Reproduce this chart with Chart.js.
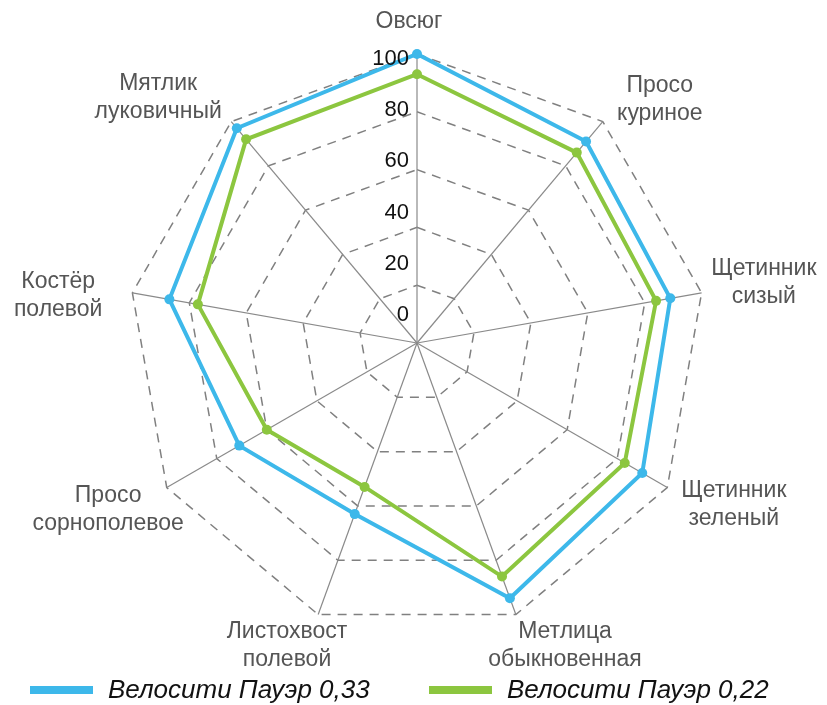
<!DOCTYPE html>
<html>
<head>
<meta charset="utf-8">
<script src="https://cdn.jsdelivr.net/npm/chart.js@4.4.1/dist/chart.umd.min.js"></script>
<style>
  html, body { margin: 0; padding: 0; background: #fff; }
  #wrap { width: 827px; height: 705px; position: relative; }
</style>
</head>
<body>
<div id="wrap"><canvas id="radarChart" width="827" height="705"></canvas></div>
<script>
// Categories (two-line labels)
const categories = [
  ['Овсюг'],
  ['Просо', 'куриное'],
  ['Щетинник', 'сизый'],
  ['Щетинник', 'зеленый'],
  ['Метлица', 'обыкновенная'],
  ['Листохвост', 'полевой'],
  ['Просо', 'сорнополевое'],
  ['Костёр', 'полевой'],
  ['Мятлик', 'луковичный']
];

// Series values (%)
const series033 = [100, 91, 89, 90, 94, 63, 71, 87, 97];
const series022 = [93, 86, 84, 83, 86, 53, 60, 77, 92];
const seriesNames = ['Велосити Пауэр 0,33', 'Велосити Пауэр 0,22'];

// Tick labels
const tickValues = [0, 20, 40, 60, 80, 100];

const blue = '#3DB8EA';
const green = '#8CC63F';

// small hand adjustments of point label placement (px)
const labelNudge = [[-8, 2], [21, 21], [7, 0], [18, -11], [30, -22], [-12, -22], [-10, -6], [-19, 13], [-37, 19]];

// Point labels, tick labels and legend drawn by hand
const decorations = {
  id: 'decorations',
  afterDatasetsDraw(chart) {
    const ctx = chart.ctx;
    const scale = chart.scales.r;
    const R = scale.drawingArea;
    const cx = scale.xCenter, cy = scale.yCenter;
    ctx.save();

    // tick labels
    ctx.font = '22px "Liberation Sans", Arial, sans-serif';
    ctx.fillStyle = '#111';
    ctx.textAlign = 'right';
    ctx.textBaseline = 'middle';
    tickValues.forEach(v => {
      const y = cy - 28 - v * (R - 33) / 100;
      ctx.fillText(String(v), cx - 8, y);
    });

    // category labels
    ctx.font = '23px "Liberation Sans", Arial, sans-serif';
    ctx.fillStyle = '#555';
    ctx.textAlign = 'center';
    const lh = 28;
    categories.forEach((lines, i) => {
      const dist = lines.length > 1 ? R * 1.194 : R * 1.118;
      const p = scale.getPointPosition(i, dist);
      const x = p.x + labelNudge[i][0];
      const y = p.y + labelNudge[i][1];
      const top = y - (lines.length - 1) * lh / 2;
      lines.forEach((t, k) => ctx.fillText(t, x, top + k * lh));
    });

    // legend
    ctx.font = 'italic 26px "Liberation Sans", Arial, sans-serif';
    ctx.textAlign = 'left';
    const ly = 690;
    const starts = [30, 429];
    chart.data.datasets.forEach((ds, i) => {
      ctx.fillStyle = ds.borderColor;
      ctx.fillRect(starts[i], ly - 4, 63, 8);
      ctx.fillStyle = '#111';
      ctx.fillText(ds.label, starts[i] + 78, ly + 1);
    });
    ctx.restore();
  }
};

new Chart(document.getElementById('radarChart'), {
  type: 'radar',
  data: {
    labels: categories,
    datasets: [
      {
        label: seriesNames[0],
        data: series033,
        borderColor: blue,
        backgroundColor: blue,
        pointBackgroundColor: blue,
        borderWidth: 4,
        pointRadius: 5,
        pointBorderWidth: 0,
        fill: false
      },
      {
        label: seriesNames[1],
        data: series022,
        borderColor: green,
        backgroundColor: green,
        pointBackgroundColor: green,
        borderWidth: 4,
        pointRadius: 5,
        pointBorderWidth: 0,
        fill: false
      }
    ]
  },
  options: {
    responsive: false,
    animation: false,
    layout: { padding: { left: 128, right: 121, top: 54, bottom: 73 } },
    plugins: {
      legend: { display: false },
      tooltip: { enabled: false }
    },
    scales: {
      r: {
        min: 0,
        max: 100,
        ticks: { stepSize: 20, display: false },
        pointLabels: { display: false },
        angleLines: { color: '#8a8a8a', lineWidth: 1.2 },
        grid: {
          circular: false,
          color: '#808080',
          lineWidth: 1.5
        },
        border: { dash: [9, 7] }
      }
    }
  },
  plugins: [decorations]
});
</script>
</body>
</html>
